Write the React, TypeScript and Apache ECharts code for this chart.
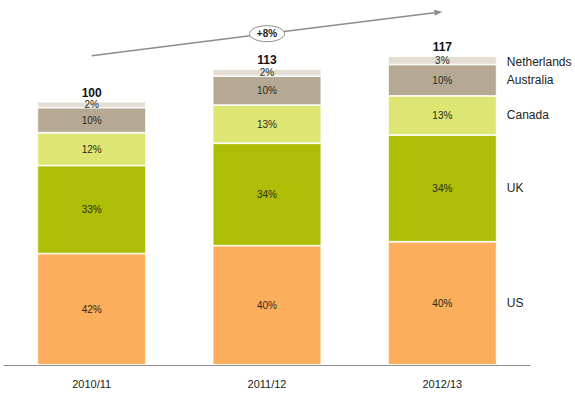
import React, { useEffect, useRef } from "react";
import * as echarts from "echarts";

const categories = ["2010/11", "2011/12", "2012/13"];
const totals = [100, 113, 117];
const seriesNames = ["US", "UK", "Canada", "Australia", "Netherlands"];
const usValues = [42.3, 45.3, 46.8];
const ukValues = [33.4, 38.9, 40.5];
const canadaValues = [12.5, 14.5, 14.9];
const australiaValues = [9.5, 11.0, 11.9];
const netherlandsValues = [2.3, 2.7, 3.2];
const usPct = [42, 40, 40];
const ukPct = [33, 34, 34];
const canadaPct = [12, 13, 13];
const australiaPct = [10, 10, 10];
const netherlandsPct = [2, 2, 3];
const growthLabel = "+8%";

const colors = ["#FBAE5C", "#AEBD06", "#DDE573", "#B5A993", "#E3DDD3"];
const FONT = "'Liberation Sans', Arial, Helvetica, sans-serif";

export default function App() {
  const ref = useRef<HTMLDivElement>(null);
  useEffect(() => {
    if (!ref.current) return;
    const chart = echarts.init(ref.current, null, { renderer: "svg" });
    const valuesList = [usValues, ukValues, canadaValues, australiaValues, netherlandsValues];
    const pctList = [usPct, ukPct, canadaPct, australiaPct, netherlandsPct];
    const series: any[] = valuesList.map((vals, i) => ({
      name: seriesNames[i],
      type: "bar",
      stack: "total",
      barWidth: "62%",
      data: vals,
      itemStyle: { color: colors[i], borderColor: "#ffffff", borderWidth: 0.8 },
      label: {
        show: true,
        position: "inside",
        fontSize: 10,
        color: "#2a2a1a",
        fontFamily: FONT,
        formatter: (p: any) => pctList[i][p.dataIndex] + "%",
      },
    }));
    series.push({
      name: "Total",
      type: "bar",
      stack: "total",
      barWidth: "62%",
      data: totals.map(() => 0),
      itemStyle: { color: "transparent" },
      label: {
        show: true,
        position: "top",
        distance: 3,
        fontSize: 12,
        fontWeight: "bold",
        color: "#111",
        fontFamily: FONT,
        formatter: (p: any) => String(totals[p.dataIndex]),
      },
    });
    chart.setOption({
      animation: false,
      textStyle: { fontFamily: FONT },
      grid: { left: 4, right: 45, top: 49, bottom: 29 },
      xAxis: {
        type: "category",
        data: categories,
        axisTick: { show: false },
        axisLine: { lineStyle: { color: "#8a8a8a", width: 1 } },
        axisLabel: { fontSize: 11, color: "#222", margin: 13, fontFamily: FONT },
      },
      yAxis: { type: "value", min: 0, max: 120, show: false, splitLine: { show: false } },
      series,
    });

    // annotations computed through the chart's scales
    const last = categories.length - 1;
    const graphics: any[] = [];
    let cum = 0;
    valuesList.forEach((vals, i) => {
      const v = vals[last];
      const mid = cum + v / 2;
      cum += v;
      const pt = chart.convertToPixel({ gridIndex: 0 }, [last, mid]) as number[];
      const barRight = pt[0] + 54.5;
      graphics.push({
        type: "text",
        x: barRight + 10,
        y: pt[1] + (i === 4 ? 2 : 0),
        style: {
          text: seriesNames[i],
          fontSize: 12,
          fill: "#222",
          fontFamily: FONT,
          verticalAlign: "middle",
          align: "left",
        },
      });
    });

    const p0 = chart.convertToPixel({ gridIndex: 0 }, [0, 0]) as number[];
    const p2 = chart.convertToPixel({ gridIndex: 0 }, [last, 0]) as number[];
    const x1 = p0[0];
    const y1 = 55.7;
    const x2 = p2[0];
    const y2 = 11.7;
    const dx = x2 - x1;
    const dy = y2 - y1;
    const len = Math.sqrt(dx * dx + dy * dy);
    const ux = dx / len;
    const uy = dy / len;
    const nx = -uy;
    const ny = ux;
    const ah = 8;
    const aw = 3;
    const bx = x2 - ah * ux;
    const by = y2 - ah * uy;
    graphics.push({
      type: "line",
      shape: { x1, y1, x2: bx, y2: by },
      style: { stroke: "#8c8c8c", lineWidth: 1.5 },
    });
    graphics.push({
      type: "polygon",
      shape: {
        points: [
          [x2, y2],
          [bx + aw * nx, by + aw * ny],
          [bx - aw * nx, by - aw * ny],
        ],
      },
      style: { fill: "#8c8c8c" },
    });
    const p1 = chart.convertToPixel({ gridIndex: 0 }, [1, 0]) as number[];
    const ex = p1[0];
    const ey = y1 + (dy * (ex - x1)) / dx;
    graphics.push({
      type: "ellipse",
      shape: { cx: ex, cy: ey, rx: 17.5, ry: 8 },
      style: { fill: "#ffffff", stroke: "#8c8c8c", lineWidth: 1 },
      z: 10,
    });
    graphics.push({
      type: "text",
      x: ex,
      y: ey,
      z: 11,
      style: {
        text: growthLabel,
        fontSize: 10,
        fontWeight: "bold",
        fill: "#222",
        fontFamily: FONT,
        align: "center",
        verticalAlign: "middle",
      },
    });
    chart.setOption({ graphic: graphics });

    return () => chart.dispose();
  }, []);
  return (
    <div
      ref={ref}
      style={{ position: "fixed", left: 0, top: 0, width: 575, height: 394, background: "#fff" }}
    />
  );
}
